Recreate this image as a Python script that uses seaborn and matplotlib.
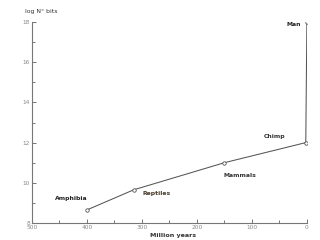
import matplotlib
matplotlib.use("Agg")
import matplotlib.pyplot as plt
import seaborn as sns
import pandas as pd
from matplotlib.ticker import MultipleLocator

species = ["Amphibia", "Reptiles", "Mammals", "Chimp", "Man"]
million_years = [400, 315, 150, 2, 0]
log_bits = [8.65, 9.65, 11.0, 12.0, 18.0]

df = pd.DataFrame({"Million years": million_years, "log N° bits": log_bits, "species": species})

sns.set_style("ticks")
plt.rcParams["font.family"] = ["DejaVu Sans"]

fig = plt.figure(figsize=(3.2, 2.4), dpi=100)
ax = fig.add_axes([0.1, 0.071, 0.859, 0.837])

sns.lineplot(data=df, x="Million years", y="log N° bits", ax=ax, sort=False,
             color="#555555", linewidth=0.75, marker="o", markersize=2.5,
             markerfacecolor="white", markeredgecolor="#555555", markeredgewidth=0.6)

ax.set_xlim(500, 0)
ax.set_ylim(8, 18)
ax.xaxis.set_major_locator(MultipleLocator(100))
ax.xaxis.set_minor_locator(MultipleLocator(50))
ax.yaxis.set_major_locator(MultipleLocator(2))
ax.yaxis.set_minor_locator(MultipleLocator(1))
ax.tick_params(which="both", direction="in", colors="#777777", labelsize=4.2, labelcolor="#888888",
               width=0.7, pad=1.5)
ax.tick_params(which="major", length=3)
ax.tick_params(which="minor", length=2)
for s in ["top", "right"]:
    ax.spines[s].set_visible(False)
for s in ["left", "bottom"]:
    ax.spines[s].set_color("#777777")
    ax.spines[s].set_linewidth(0.8)

ax.set_xlabel("")
ax.set_ylabel("")
fig.text(0.54, 4 / 240, "Million years", fontsize=4.6, fontweight="bold", ha="center", va="center", color="#333333")
fig.text(25 / 320, 1 - 12 / 240, "log N° bits", fontsize=4.4, ha="left", va="center", color="#333333")

offsets = {"Amphibia": (-23, 8), "Reptiles": (6.5, -3), "Mammals": (-1, -9), "Chimp": (-30, 4.3), "Man": (-14.4, -1.4)}
colors = {"Amphibia": "#222222", "Reptiles": "#4a3a2a", "Mammals": "#333333", "Chimp": "#333333", "Man": "#222222"}
for name, xv, yv in zip(species, million_years, log_bits):
    dx, dy = offsets[name]
    ax.annotate(name, (xv, yv), xytext=(dx, dy), textcoords="offset points",
                fontsize=4.4, fontweight="bold", color=colors[name], ha="left", va="center")

fig.savefig("out.png", dpi=100)
